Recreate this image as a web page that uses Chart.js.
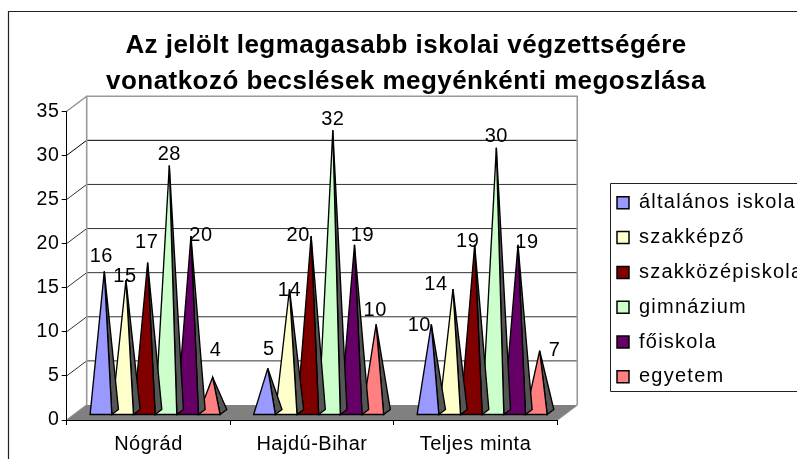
<!DOCTYPE html>
<html><head><meta charset="utf-8">
<style>html,body{margin:0;padding:0;background:#fff;overflow:hidden}#w{width:797px;height:459px}</style>
<script src="https://cdn.jsdelivr.net/npm/chart.js@4/dist/chart.umd.js"></script>
</head><body><div id="w"><canvas id="c" width="797" height="459"></canvas></div>
<script>
const categories = ['Nógrád', 'Hajdú-Bihar', 'Teljes minta'];
const titleLines = ['Az jelölt legmagasabb iskolai végzettségére', 'vonatkozó becslések megyénkénti megoszlása'];
const altalanos = [16, 5, 10];
const szakkepzo = [15, 14, 14];
const szakkozep = [17, 20, 19];
const gimnazium = [28, 32, 30];
const foiskola = [20, 19, 19];
const egyetem = [4, 10, 7];
const yTicks = [0, 5, 10, 15, 20, 25, 30, 35];

// Hand-placed label nudges, as in the original chart (series -> category -> [dx, dy])
const labelNudges = [
  [[-3,-16],[1,-20],[-12,0]],
  [[-1,-5],[0,0],[-17,-6]],
  [[-1,-21],[-13,-2],[-7,-4]],
  [[0,-12],[0,-12],[0,-12]],
  [[10,-2],[8,-10],[9,-3]],
  [[3,-28],[-1,-15],[15,-1]]
];

const DX = 20, DY = 15;            // wall depth
const bDX = 6.67, bDY = 5;         // pyramid base front inset / depth

class PyramidElement extends Chart.BarElement {
  static id = 'pyramid';
  static defaults = Chart.BarElement.defaults;
  static defaultRoutes = Chart.BarElement.defaultRoutes;
  draw(ctx) {
    const {x, y, base, width} = this.getProps(['x', 'y', 'base', 'width']);
    const o = this.options;
    const l = x - width / 2 + bDX, r = x + width / 2 + bDX, by = base - bDY;
    const ax = x + bDX * 1.5, ay = y - bDY * 1.5;
    ctx.save();
    ctx.lineWidth = 1.35; ctx.strokeStyle = '#000'; ctx.lineJoin = 'miter'; ctx.miterLimit = 4;
    ctx.fillStyle = o.sideColor || '#555';
    ctx.beginPath(); ctx.moveTo(r, by); ctx.lineTo(r + bDX, by - bDY); ctx.lineTo(ax, ay); ctx.closePath(); ctx.fill(); ctx.stroke();
    ctx.fillStyle = o.backgroundColor;
    ctx.beginPath(); ctx.moveTo(l, by); ctx.lineTo(r, by); ctx.lineTo(ax, ay); ctx.closePath(); ctx.fill(); ctx.stroke();
    ctx.restore();
  }
}
class PyramidController extends Chart.BarController {
  static id = 'pyramid';
  static defaults = Object.assign({}, Chart.BarController.defaults, {dataElementType: 'pyramid'});
  static overrides = Chart.BarController.overrides;
}
Chart.register(PyramidElement, PyramidController);

const series = [
  ['általános iskola', altalanos, '#9999FF', '#4D4D80'],
  ['szakképző', szakkepzo, '#FFFFCC', '#808066'],
  ['szakközépiskola', szakkozep, '#800000', '#400000'],
  ['gimnázium', gimnazium, '#CCFFCC', '#668066'],
  ['főiskola', foiskola, '#660066', '#330033'],
  ['egyetem', egyetem, '#FF8080', '#804040']
];

const spaced = (chart, box, method, s) => {
  const d = box[method];
  box[method] = function (a) { chart.ctx.letterSpacing = s; d.call(this, a); chart.ctx.letterSpacing = '0px'; };
};

const scene = {
  id: 'scene',
  afterLayout(chart) {
    const lg = chart.legend;
    lg.left = 602.2; lg.top = 178; lg.right = 797; lg.bottom = 459; lg.width = 195; lg.height = 281;
    chart.titleBlock.left = 15; chart.titleBlock.right = 797;
    if (!chart.$wrapped) {
      chart.$wrapped = true;
      spaced(chart, chart.legend, 'draw', '1.25px');
      spaced(chart, chart.titleBlock, 'draw', '0.45px');
      spaced(chart, chart.scales.x, 'drawLabels', '0.5px');
      spaced(chart, chart.scales.y, 'drawLabels', '0.8px');
    }
  },
  beforeDraw(chart) {
    const c = chart.ctx, {left, right} = chart.chartArea, y = chart.scales.y;
    c.save();
    c.fillStyle = '#fff'; c.fillRect(0, 0, chart.width, chart.height);
    // outer frame
    c.strokeStyle = '#222'; c.lineWidth = 1.2;
    c.beginPath(); c.moveTo(8.5, 459); c.lineTo(8.5, 11.5); c.lineTo(797, 11.5); c.stroke();
    const y0 = y.getPixelForValue(0), yT = y.getPixelForValue(35);
    // floor
    c.fillStyle = '#808080';
    c.beginPath(); c.moveTo(left, y0); c.lineTo(left + DX, y0 - DY); c.lineTo(right + DX, y0 - DY); c.lineTo(right, y0); c.closePath(); c.fill();
    // gridlines
    c.lineWidth = 1;
    yTicks.forEach(v => {
      if (v === 0 || v === 35) return;
      const p = y.getPixelForValue(v);
      c.strokeStyle = v === 30 ? '#000' : '#333';
      c.beginPath(); c.moveTo(left, p); c.lineTo(left + DX, p - DY); c.lineTo(right + DX, p - DY); c.stroke();
    });
    // diagonals
    c.strokeStyle = '#888'; c.lineWidth = 1.2;
    c.beginPath(); c.moveTo(left, yT); c.lineTo(left + DX, yT - DY); c.stroke();
    c.beginPath(); c.moveTo(left, y0); c.lineTo(left + DX, y0 - DY); c.stroke();
    c.beginPath(); c.moveTo(right, y0); c.lineTo(right + DX, y0 - DY); c.stroke();
    // walls' gray edges
    c.strokeStyle = '#999'; c.lineWidth = 1.6;
    c.beginPath(); c.moveTo(left + DX, y0 - DY); c.lineTo(left + DX, yT - DY); c.lineTo(right + DX, yT - DY); c.lineTo(right + DX, y0 - DY); c.stroke();
    // legend frame
    c.strokeStyle = '#222'; c.lineWidth = 1;
    c.beginPath(); c.moveTo(798, 183.5); c.lineTo(610.5, 183.5); c.lineTo(610.5, 391.5); c.lineTo(798, 391.5); c.stroke();
    c.restore();
  },
  afterDatasetsDraw(chart) {
    const c = chart.ctx;
    c.save();
    c.font = '20px "Liberation Sans", Arial, sans-serif';
    c.letterSpacing = '0.5px';
    c.fillStyle = '#000'; c.textAlign = 'center'; c.textBaseline = 'middle';
    chart.data.datasets.forEach((ds, i) => {
      chart.getDatasetMeta(i).data.forEach((el, j) => {
        const ax = el.x + bDX * 1.5, ay = el.y - bDY * 1.5;
        const [dx, dy] = labelNudges[i][j];
        c.fillText(String(ds.data[j]), ax + dx, ay + dy + 1);
      });
    });
    c.restore();
  }
};

new Chart(document.getElementById('c'), {
  type: 'pyramid',
  data: {
    labels: categories,
    datasets: series.map(s => ({
      label: s[0], data: s[1], backgroundColor: s[2], sideColor: s[3],
      borderColor: '#000', borderWidth: 1.5, clip: false,
      categoryPercentage: 0.795, barPercentage: 1
    }))
  },
  plugins: [scene],
  options: {
    responsive: false, animation: false,
    events: [],
    layout: {padding: {left: 0, right: 54, top: 0, bottom: 0}},
    plugins: {
      tooltip: {enabled: false},
      title: {
        display: true, text: titleLines, color: '#000',
        font: {family: '"Liberation Sans", Arial, sans-serif', size: 26, weight: 'bold', lineHeight: 1.36},
        padding: {top: 28.5, bottom: 12}
      },
      legend: {
        display: true, position: 'right', align: 'start',
        labels: {
          boxWidth: 12, boxHeight: 12, padding: 14.8, color: '#000',
          font: {family: '"Liberation Sans", Arial, sans-serif', size: 20}
        }
      }
    },
    scales: {
      x: {
        grid: {display: true, drawOnChartArea: false, color: '#000', tickLength: 5, offset: true},
        border: {display: true, color: '#000', width: 1},
        ticks: {color: '#000', padding: 7, maxRotation: 0, font: {family: '"Liberation Sans", Arial, sans-serif', size: 20}},
        afterFit(a) { a.height = 39; }
      },
      y: {
        min: 0, max: 35,
        afterBuildTicks(a) { a.ticks = yTicks.map(v => ({value: v})); },
        grid: {display: true, drawOnChartArea: false, color: '#000', tickLength: 5},
        border: {display: true, color: '#000', width: 1},
        ticks: {color: '#000', padding: 2, font: {family: '"Liberation Sans", Arial, sans-serif', size: 19.5}},
        afterFit(a) { a.width = 66.7; }
      }
    }
  }
});
</script>
</body></html>
